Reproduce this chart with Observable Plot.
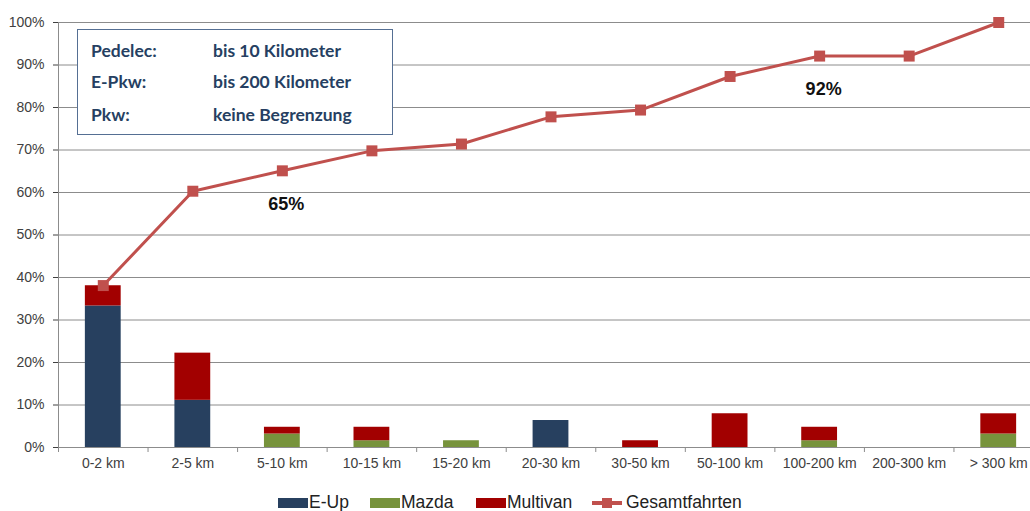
<!DOCTYPE html>
<html>
<head>
<meta charset="utf-8">
<script src="https://cdn.jsdelivr.net/npm/d3@7"></script>
<script src="https://cdn.jsdelivr.net/npm/@observablehq/plot@0.6"></script>
<style>
  body { margin: 0; background: #fff; }
  #wrap { position: relative; width: 1030px; height: 511px; overflow: hidden; font-family: "Liberation Sans", Arial, sans-serif; }
  #chart { position: absolute; left: 0; top: 0; }
  #box { position: absolute; left: 77px; top: 29px; width: 316px; height: 106px; box-sizing: border-box;
         border: 1.5px solid #556f93; background: #fff; font-family: Lato, "Open Sans", sans-serif; font-weight: bold;
         font-size: 17.5px; color: #263f62; }
  #box .row { position: absolute; left: 13px; height: 20px; line-height: 20px; white-space: nowrap; }
  #box .c2 { position: absolute; left: 122px; }
  .lg { position: absolute; top: 492px; height: 20px; line-height: 20px; font-size: 17.5px; color: #222; white-space: nowrap; }
  .sw { position: absolute; top: 6px; width: 30px; height: 10px; }
</style>
</head>
<body>
<div id="wrap">
  <div id="chart"></div>
  <div id="box"></div>
  <div id="legend"></div>
</div>
<script>
const categories = ["0-2 km", "2-5 km", "5-10 km", "10-15 km", "15-20 km", "20-30 km", "30-50 km", "50-100 km", "100-200 km", "200-300 km", "> 300 km"];
const seriesNames = ["E-Up", "Mazda", "Multivan"];
const seriesColors = ["#27405f", "#77933c", "#a20000"];
const eUp      = [33.3, 11.1, 0,    0,    0,    6.35, 0,    0,    0,    0, 0];
const mazda    = [0,    0,    3.17, 1.59, 1.59, 0,    0,    0,    1.59, 0, 3.17];
const multivan = [4.76, 11.1, 1.59, 3.17, 0,    0,    1.59, 7.94, 3.17, 0, 4.76];
const gesamt   = [38.1, 60.3, 65.1, 69.8, 71.4, 77.8, 79.4, 87.3, 92.1, 92.1, 100];
const lineName = "Gesamtfahrten";
const lineColor = "#c0504d";
const yTicks = [0, 10, 20, 30, 40, 50, 60, 70, 80, 90, 100];
const annotations = [
  {cat: "5-10 km", value: 65, label: "65%"},
  {cat: "100-200 km", value: 92, label: "92%"}
];
const boxLines = [
  ["Pedelec:", "bis 10 Kilometer"],
  ["E-Pkw:", "bis 200 Kilometer"],
  ["Pkw:", "keine Begrenzung"]
];

const seriesValues = [eUp, mazda, multivan];
const barRows = [];
categories.forEach((c, i) => {
  seriesNames.forEach((s, j) => barRows.push({cat: c, series: s, value: seriesValues[j][i]}));
});
const lineRows = categories.map((c, i) => ({cat: c, value: gesamt[i]}));

const left = 58, right = 1043;
const step = (right - left) / categories.length;

const plot = Plot.plot({
  width: 1030,
  height: 480,
  marginTop: 22,
  marginBottom: 33,
  marginLeft: 58,
  marginRight: 0,
  style: {fontFamily: "'Liberation Sans', Arial, sans-serif", fontSize: "14px", color: "#404040", background: "transparent"},
  x: {domain: categories, range: [left, right], round: false, paddingInner: 0.6, paddingOuter: 0.3, tickSize: 0, tickPadding: 11, label: null},
  y: {domain: [0, 100], ticks: yTicks, tickFormat: d => d + "%", tickSize: 5, tickPadding: 9, label: null},
  color: {domain: seriesNames, range: seriesColors},
  marks: [
    Plot.ruleY(yTicks, {stroke: "#8c8c8c", strokeWidth: 1}),
    Plot.ruleX([categories[0]], {x: d => d, y1: 0, y2: 100, dx: -step / 2, stroke: "#8c8c8c"}),
    Plot.ruleX(categories, {x: d => d, y1: 0, y2: 0, dx: -step / 2, insetBottom: -5, stroke: "#8c8c8c"}),
    Plot.barY(barRows, Plot.stackY({x: "cat", y: "value", fill: "series", order: seriesNames})),
    Plot.line(lineRows, {x: "cat", y: "value", stroke: lineColor, strokeWidth: 3}),
    Plot.dot(lineRows, {x: "cat", y: "value", symbol: "square", r: 6.2, fill: lineColor}),
    Plot.text(annotations, {x: "cat", y: "value", text: "label", dy: 33, dx: 4, fontSize: 18, fontWeight: "bold", fill: "#111"})
  ]
});
document.getElementById("chart").appendChild(plot);

// Info box
const box = document.getElementById("box");
const rowTops = [11, 42, 75];
boxLines.forEach((l, i) => {
  const r = document.createElement("div");
  r.className = "row";
  r.style.top = rowTops[i] + "px";
  r.innerHTML = `<span>${l[0]}</span><span class="c2">${l[1]}</span>`;
  box.appendChild(r);
});

// Legend
const legend = document.getElementById("legend");
const items = [
  {name: seriesNames[0], color: seriesColors[0], x: 278},
  {name: seriesNames[1], color: seriesColors[1], x: 370},
  {name: seriesNames[2], color: seriesColors[2], x: 476},
  {name: lineName, color: lineColor, x: 592, line: true}
];
items.forEach(it => {
  const d = document.createElement("div");
  d.className = "lg";
  d.style.left = it.x + "px";
  if (it.line) {
    d.innerHTML = `<svg width="30" height="20" style="position:absolute;left:0;top:1px"><line x1="0" x2="30" y1="10" y2="10" stroke="${it.color}" stroke-width="4"/><rect x="10" y="5" width="10" height="10" fill="${it.color}"/></svg><span style="position:absolute;left:34px">${it.name}</span>`;
  } else {
    d.innerHTML = `<span class="sw" style="left:0;background:${it.color}"></span><span style="position:absolute;left:31px">${it.name}</span>`;
  }
  legend.appendChild(d);
});
</script>
</body>
</html>
